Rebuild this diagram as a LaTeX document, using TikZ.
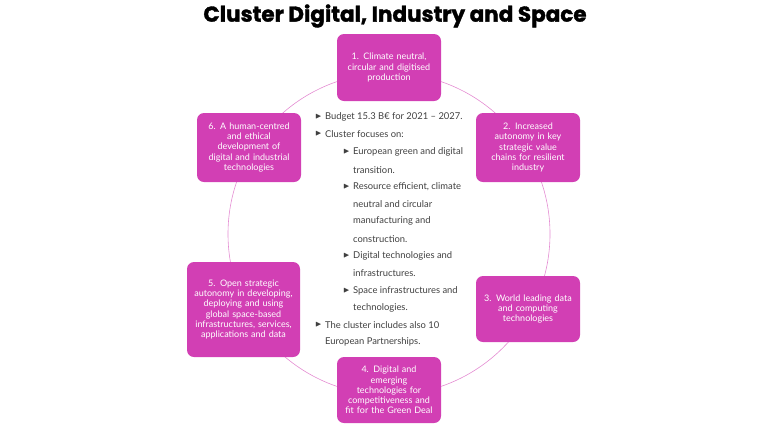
\documentclass[tikz,border=0pt]{standalone}
\usepackage{fontspec}
\usepackage{amssymb}
\setmainfont{Lato}
\newfontfamily\titlefont{Poppins Bold}[FakeBold=1.5]
\definecolor{mag}{HTML}{D23FB4}
\definecolor{txt}{HTML}{404040}
\begin{document}
\begin{tikzpicture}[x=1pt,y=-1pt,
  box/.style={fill=mag,rounded corners=7pt,text=white,align=center,font=\fontsize{9}{10.2}\selectfont,inner sep=2pt},
  ln/.style={anchor=west,text=txt,font=\fontsize{9.4}{11}\selectfont,inner sep=0pt},
  ar/.style={anchor=west,text=txt,font=\fontsize{7.5}{8}\selectfont,inner sep=0pt}]
\useasboundingbox (0,0) rectangle (768,432);
\node[font=\titlefont\fontsize{21.5}{24}\selectfont] (title) at (395,16) {Cluster Digital, Industry and Space};
\draw[mag!60, line width=0.6pt] (389,234) circle (161);
\path[box] (337,34) rectangle (441,101);
\node[box,fill=none,text width=104pt] (b1) at (389,67.5) {1. Climate neutral,\\circular and digitised\\production};
\path[box] (476,113) rectangle (580,182);
\node[box,fill=none,text width=104pt] (b2) at (528,147.5) {2. Increased\\autonomy in key\\strategic value\\chains for resilient\\industry};
\path[box] (197,113) rectangle (301,182);
\node[box,fill=none,text width=104pt] (b6) at (249,147.5) {6. A human-centred\\and ethical\\development of\\digital and industrial\\technologies};
\path[box] (476,276) rectangle (580,342);
\node[box,fill=none,text width=104pt] (b3) at (528,309) {3. World leading data\\and computing\\technologies};
\path[box] (187,262) rectangle (300,357);
\node[box,fill=none,text width=113pt] (b5) at (243.5,309.5) {5. Open strategic\\autonomy in developing,\\deploying and using\\global space-based\\infrastructures, services,\\applications and data};
\path[box] (337,357) rectangle (441,423);
\node[box,fill=none,text width=104pt] (b4) at (389,390) {4. Digital and\\emerging\\technologies for\\competitiveness and\\fit for the Green Deal};
\foreach \y/\t [count=\i] in {117/{Budget 15.3 B€ for 2021 – 2027.},134/{Cluster focuses on:},325/{The cluster includes also 10}} {
  \node[ar] (a\i) at (315,\y) {$\blacktriangleright$};
  \node[ln] (t\i) at (325,\y) {\t};
}
\node[ln] (t4) at (325,342) {European Partnerships.};
\foreach \y [count=\i] in {152,187,256,291} {
  \node[ar] (s\i) at (343,\y) {$\blacktriangleright$};
}
\foreach \y/\t [count=\i] in {152/{European green and digital},170/{transition.},187/{Resource efficient, climate},204/{neutral and circular},221/{manufacturing and},239/{construction.},256/{Digital technologies and},273/{infrastructures.},291/{Space infrastructures and},308/{technologies.}} {
  \node[ln] (u\i) at (353,\y) {\t};
}
\end{tikzpicture}
\end{document}
